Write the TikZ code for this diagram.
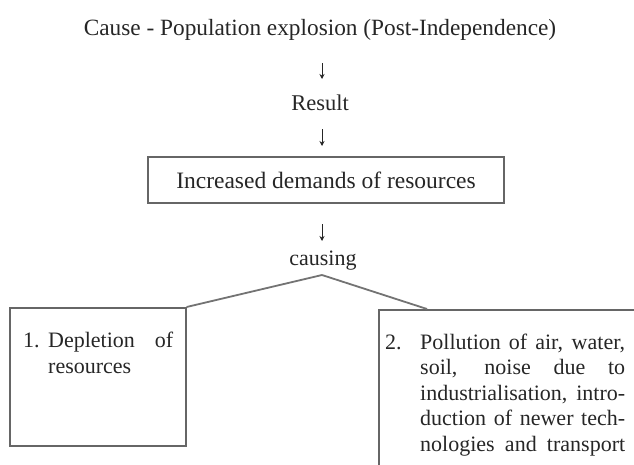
\documentclass[tikz,border=0pt]{standalone}
\usepackage{fontspec}
\setmainfont{Liberation Serif}
\usetikzlibrary{calc,arrows.meta}
\begin{document}
\begin{tikzpicture}[x=1pt,y=-1pt,
  txt/.style={inner sep=0pt, text=black!85},
  frame/.style={draw=black!60, line width=1.6pt},
  arr/.style={draw=black!85, line width=0.9pt, -{Stealth[length=5pt,width=5pt]}},
  link/.style={draw=black!55, line width=1.8pt}]
\useasboundingbox (0,0) rectangle (634,464);
\node[txt, font=\fontsize{23.3}{26}\selectfont] (title) at (320,30) {Cause - Population explosion (Post-Independence)};
\node[txt, font=\fontsize{22.5}{26}\selectfont] (result) at (320,103) {Result};
\node[frame, txt, minimum width=356pt, minimum height=46pt, font=\fontsize{23.5}{26}\selectfont] (demand) at (326,180) {Increased demands of resources};
\node[txt, font=\fontsize{22}{26}\selectfont] (causing) at (323,261) {causing};
\coordinate (apex) at (322,275);
\node[frame, anchor=north west, minimum width=176pt, minimum height=138pt, inner sep=0pt] (lbox) at (9,307) {};
\node[frame, anchor=north west, minimum width=270pt, minimum height=170pt, inner sep=0pt] (rbox) at (378,309) {};
\node[txt, anchor=base west, font=\fontsize{22}{26}\selectfont] (ltext) at (23,347)
  {\begin{tabular}[t]{@{}p{25pt}@{}l@{}}1. & \makebox[125pt][s]{Depletion of}\\ & resources\end{tabular}};
\node[txt, anchor=base west, font=\fontsize{22}{25.5}\selectfont] (rtext) at (385,349)
  {\begin{tabular}[t]{@{}p{35pt}@{}l@{}}2. & \makebox[205pt][s]{Pollution of air, water,}\\
   & \makebox[205pt][s]{soil, noise due to}\\
   & \makebox[205pt][s]{industrialisation, intro-}\\
   & \makebox[205pt][s]{duction of newer tech-}\\
   & \makebox[205pt][s]{nologies and transport}\end{tabular}};
\draw[arr] (title.center) ++(2,33) -- ++(0,16);
\draw[arr] (result.center) ++(2,26) -- ++(0,17);
\draw[arr] (demand.center) ++(-4,44) -- ++(0,17);
\draw[link] (apex) -- (lbox.north east);
\draw[link] (apex) -- ($(rbox.north west)+(49,0)$);
\end{tikzpicture}
\end{document}
